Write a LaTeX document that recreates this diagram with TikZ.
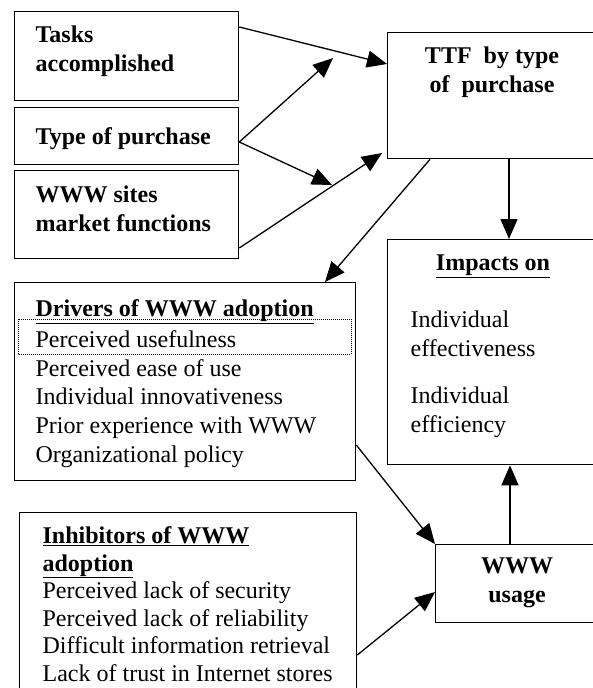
\documentclass[tikz,border=0pt]{standalone}
\usepackage{fontspec}
\setmainfont{Liberation Serif}
\usetikzlibrary{arrows.meta}

\begin{document}
\begin{tikzpicture}[x=1pt, y=-1pt, line width=1.3pt,
        box/.style={draw, rectangle, anchor=north west, inner sep=0pt},
        txt/.style={anchor=north west, inner sep=0pt, align=left, font=\fontsize{24}{28.8}\selectfont},
        btxt/.style={txt, font=\fontsize{24}{28.8}\selectfont\bfseries},
        arr/.style={-{Triangle[length=20pt, width=17pt]}}]
            \clip (0,0) rectangle (593,688);
            \node[box, minimum width=224pt, minimum height=89pt] (tasks) at (14,11) {};
            \node[box, minimum width=224pt, minimum height=57pt] (type) at (14,107) {};
            \node[box, minimum width=224pt, minimum height=88pt] (sites) at (14,170) {};
            \node[box, minimum width=215pt, minimum height=126pt] (ttf) at (387,32) {};
            \node[box, minimum width=215pt, minimum height=225pt] (impacts) at (387,239) {};
            \node[box, minimum width=341pt, minimum height=198pt] (drivers) at (14,282) {};
            \node[box, minimum width=337pt, minimum height=200pt] (inhib) at (19,512) {};
            \node[box, minimum width=170pt, minimum height=78pt] (usage) at (435,544) {};
            \draw[line width=1pt, densely dotted] (18,319) rectangle (351,354);
            \node[btxt] (tasks-t) at (35,25) {Tasks\\accomplished};
            \node[btxt] (type-t) at (35,127) {Type of purchase};
            \node[btxt] (sites-t) at (35,185) {WWW sites\\market functions};
            \node[btxt, anchor=north, align=center] (ttf-t) at (492,46) {TTF~ by type\\of~ purchase};
            \node[btxt, anchor=north] (impacts-h) at (493,254) {\underline{Impacts on}};
            \node[txt] (impacts-t) at (410,310) {Individual\\effectiveness\\[19pt]Individual\\efficiency};
            \node[txt] (drivers-t) at (35,299) {\textbf{\underline{Drivers of WWW adoption}}\\[2pt]Perceived usefulness\\Perceived ease of use\\Individual innovativeness\\Prior experience with WWW\\Organizational policy};
            \node[txt, font=\fontsize{24}{27.6}\selectfont] (inhib-t) at (42,526) {\textbf{\underline{Inhibitors of WWW}}\\\textbf{\underline{adoption}}\\Perceived lack of security\\Perceived lack of reliability\\Difficult information retrieval\\Lack of trust in Internet stores};
            \node[btxt, anchor=north, align=center] (usage-t) at (517,557) {WWW\\usage};
            \coordinate (tip1) at (333,58);
            \coordinate (tip2) at (332,185);
            \coordinate (tip3) at (382,153);
            \draw[arr] (tasks.east |- 0,27) -- (ttf.west |- 0,64);
            \draw[arr] (type.east |- 0,142) -- (tip1);
            \draw[arr] (type.east |- 0,142) -- (tip2);
            \draw[arr] (sites.east |- 0,248) -- (tip3);
            \draw[arr] (ttf.south -| 430,0) -- (drivers.north -| 325,0);
            \draw[arr] (ttf.south -| 509,0) -- (impacts.north -| 509,0);
            \draw[arr] (drivers.east |- 0,445) -- (usage.north west);
            \draw[arr] (inhib.east |- 0,655) -- (usage.west |- 0,592);
            \draw[arr] (usage.north -| 510,0) -- (impacts.south -| 510,0);
        \end{tikzpicture}
\end{document}
